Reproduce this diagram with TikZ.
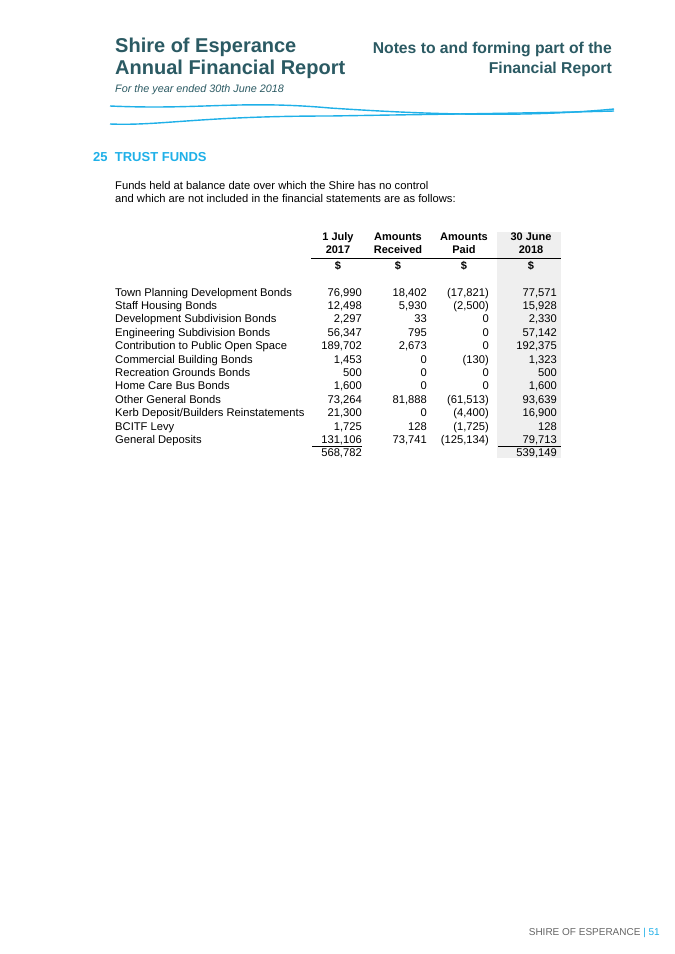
\documentclass[tikz,border=0pt]{standalone}
\usepackage{fontspec}
\setmainfont{Liberation Sans}
\definecolor{teal}{HTML}{2B5A63}
\definecolor{cyanline}{HTML}{1FB0E8}
\definecolor{colshade}{HTML}{EFEFEF}
\begin{document}
\begin{tikzpicture}
        [x=1pt, y=-1pt,
        head/.style={font=\fontsize{20}{22}\selectfont\bfseries, text=teal, inner sep=0},
        label/.style={anchor=base west, font=\fontsize{11.2}{12}\selectfont, inner sep=0},
        num/.style={anchor=base east, font=\fontsize{11.2}{12}\selectfont, inner sep=0},
        colhead/.style={anchor=base, font=\fontsize{11}{12}\selectfont\bfseries, inner sep=0},
        wave/.style={cyanline, line width=1.4pt}]

        \useasboundingbox (0,0) rectangle (675,954);
        \fill[white] (0,0) rectangle (675,954);

        % shaded column
        \fill[colshade] (497,232) rectangle (561,458);

        % header
        \node[head, anchor=base west] (shire) at (115,52) {Shire of Esperance};
        \node[head, anchor=base west] (annual) at (115,74) {Annual Financial Report};
        \node[anchor=base west, inner sep=0, text=teal, font=\fontsize{10.8}{12}\selectfont\itshape] (year) at (115,92) {For the year ended 30th June 2018};
        \node[head, anchor=base east, font=\fontsize{15.7}{17}\selectfont\bfseries] (notes) at (612,53) {Notes to and forming part of the};
        \node[head, anchor=base east, font=\fontsize{15.7}{17}\selectfont\bfseries] (fin) at (612,73) {Financial Report};

        % wavy lines
        \draw[wave] (110,106) .. controls (200,110) and (240,100) .. (330,108) .. controls (420,114) and (520,118) .. (614,109);
        \draw[wave] (110,124) .. controls (160,126) and (200,116) .. (330,116) .. controls (450,114) and (540,113) .. (614,111);

        % section title
        \node[anchor=base west, inner sep=0, text=cyanline, font=\fontsize{13}{14}\selectfont\bfseries] (title) at (93,161) {25\ \ TRUST FUNDS};
        \node[label] (intro1) at (115,189) {Funds held at balance date over which the Shire has no control};
        \node[label] (intro2) at (115,202) {and which are not included in the financial statements are as follows:};

        % column heads
        \node[colhead] (h1a) at (338,240) {1 July};
        \node[colhead] (h1b) at (338,253) {2017};
        \node[colhead] (h2a) at (398,240) {Amounts};
        \node[colhead] (h2b) at (398,253) {Received};
        \node[colhead] (h3a) at (464,240) {Amounts};
        \node[colhead] (h3b) at (464,253) {Paid};
        \node[colhead] (h4a) at (531,240) {30 June};
        \node[colhead] (h4b) at (531,253) {2018};
        \draw[line width=1pt] (311,258) -- (561,258);
        \foreach \x/\n in {338/d1, 398/d2, 464/d3, 531/d4}
            \node[colhead] (\n) at (\x,269) {\$};

        % rows
        \foreach \name/\a/\b/\c/\d [count=\i] in {
            {Town Planning Development Bonds}/{76,990}/{18,402}/{(17,821)}/{77,571},
            {Staff Housing Bonds}/{12,498}/{5,930}/{(2,500)}/{15,928},
            {Development Subdivision Bonds}/{2,297}/{33}/{0}/{2,330},
            {Engineering Subdivision Bonds}/{56,347}/{795}/{0}/{57,142},
            {Contribution to Public Open Space}/{189,702}/{2,673}/{0}/{192,375},
            {Commercial Building Bonds}/{1,453}/{0}/{(130)}/{1,323},
            {Recreation Grounds Bonds}/{500}/{0}/{0}/{500},
            {Home Care Bus Bonds}/{1,600}/{0}/{0}/{1,600},
            {Other General Bonds}/{73,264}/{81,888}/{(61,513)}/{93,639},
            {Kerb Deposit/Builders Reinstatements}/{21,300}/{0}/{(4,400)}/{16,900},
            {BCITF Levy}/{1,725}/{128}/{(1,725)}/{128},
            {General Deposits}/{131,106}/{73,741}/{(125,134)}/{79,713}}
        {
            \pgfmathsetmacro{\yy}{296+(\i-1)*13.4}
            \node[label] (r\i) at (115,\yy) {\name};
            \node[num] (r\i a) at (362,\yy) {\a};
            \node[num] (r\i b) at (427,\yy) {\b};
            \node[num] (r\i c) at (489,\yy) {\c};
            \node[num] (r\i d) at (557,\yy) {\d};
        }

        % totals
        \draw[thick] (312,446) -- (362,446);
        \draw[thick] (498,446) -- (561,446);
        \node[num] (tot1) at (362,456) {568,782};
        \node[num] (tot4) at (557,456) {539,149};

        % footer
        \node[anchor=base east, inner sep=0, font=\fontsize{10}{11}\selectfont] (foot) at (660,935)
            {\textcolor{gray!80!black}{SHIRE OF ESPERANCE} \textcolor{cyanline}{| 51}};

    \end{tikzpicture}
\end{document}
